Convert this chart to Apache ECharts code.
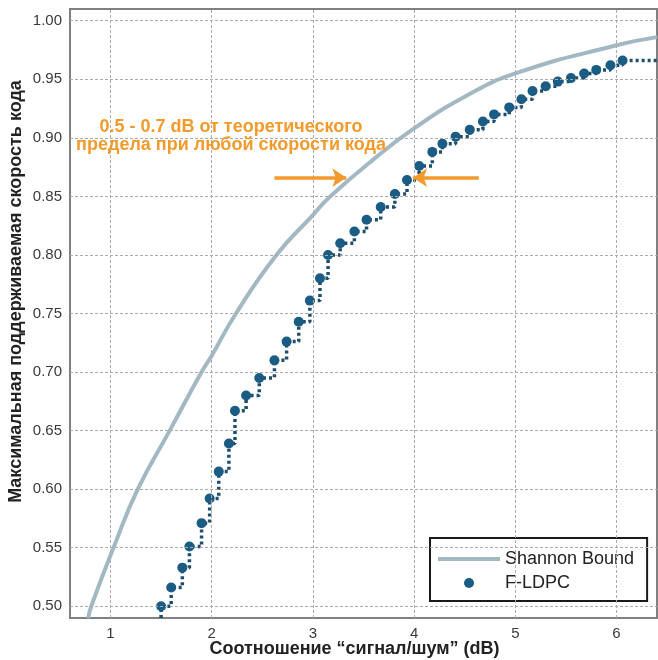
<!DOCTYPE html>
<html>
<head>
<meta charset="utf-8">
<title>F-LDPC vs Shannon Bound</title>
<script src="https://cdn.jsdelivr.net/npm/echarts@6/dist/echarts.min.js"></script>
<style>
    html, body { margin: 0; padding: 0; background: #fff; }
    #chart { width: 658px; height: 660px; }
</style>
</head>
<body>
<div id="chart"></div>
<script>
// оси
var xTicks = [1, 2, 3, 4, 5, 6];
var yTicks = [0.50, 0.55, 0.60, 0.65, 0.70, 0.75, 0.80, 0.85, 0.90, 0.95, 1.00];

// Shannon bound (читается с картинки)
var shannonX = [0.78, 0.81, 1.03, 1.27, 1.585, 1.90, 2.00, 2.24, 2.64, 3.00, 3.16, 3.59, 4.00, 4.50, 5.00, 6.00, 6.40];
var shannonY = [0.490, 0.500, 0.550, 0.600, 0.650, 0.700, 0.714, 0.750, 0.800, 0.834, 0.849, 0.881, 0.908, 0.935, 0.955, 0.979, 0.986];

// F-LDPC точки
var ldpcX = [1.50, 1.60, 1.71, 1.78, 1.90, 1.98, 2.07, 2.17, 2.23, 2.34,
    2.47, 2.62, 2.74, 2.86, 2.97, 3.07, 3.15, 3.27, 3.41, 3.53,
    3.67, 3.81, 3.93, 4.05, 4.18, 4.28, 4.41, 4.55, 4.68, 4.79,
    4.94, 5.06, 5.17, 5.30, 5.42, 5.55, 5.68, 5.80, 5.94, 6.06];
var ldpcY = [0.500, 0.516, 0.533, 0.551, 0.571, 0.592, 0.615, 0.639, 0.667, 0.680,
    0.695, 0.710, 0.726, 0.743, 0.761, 0.780, 0.800, 0.810, 0.820, 0.830,
    0.841, 0.852, 0.864, 0.876, 0.888, 0.895, 0.901, 0.907, 0.914, 0.920,
    0.926, 0.933, 0.940, 0.944, 0.948, 0.951, 0.955, 0.958, 0.962, 0.966];
// хвосты ступенчатой линии (к оси и к правому краю)
var stairStart = [1.50, 0.49];
var stairEnd = [6.40, 0.966];

// стрелки аннотации: [x от, x до], y
var arrowLeftX = [2.62, 3.33];
var arrowRightX = [4.64, 3.99];
var arrowY = 0.866;

var orange = '#f39a2c';
var shannonColor = '#a2b8c3';
var font = '"Liberation Sans", Arial, sans-serif';

var el = document.getElementById('chart');
var chart = echarts.init(el);

var shannonData = shannonX.map(function(x, i) { return [x, shannonY[i]]; });
var ldpcData = [{ value: stairStart, symbol: 'none' }];
ldpcX.forEach(function(x, i) { ldpcData.push([x, ldpcY[i]]); });
ldpcData.push({ value: stairEnd, symbol: 'none' });

var gridLines = xTicks.map(function(v) { return { xAxis: v }; })
    .concat(yTicks.map(function(v) { return { yAxis: v }; }));

var option = {
    animation: false,
    textStyle: { fontFamily: font },
    grid: {
        left: 70, right: 1, top: 9, bottom: 42,
        outerBoundsMode: 'none',
        show: true,
        borderColor: '#808080',
        borderWidth: 2,
        backgroundColor: '#fff'
    },
    xAxis: {
        type: 'value',
        min: 0.6,
        max: 6.4,
        name: 'Соотношение “сигнал/шум” (dB)',
        nameLocation: 'middle',
        nameGap: 22,
        nameMoveOverlap: false,
        nameTextStyle: { fontSize: 18, fontWeight: 'bold', color: '#222', padding: [0, 18, 0, 0] },
        axisLine: { show: false },
        axisTick: { show: false },
        splitLine: { show: false },
        axisLabel: {
            customValues: xTicks,
            fontSize: 15,
            color: '#3a3a3a',
            margin: 8
        }
    },
    yAxis: {
        type: 'value',
        min: 0.49,
        max: 1.01,
        name: 'Максимальная поддерживаемая скорость кода',
        nameLocation: 'middle',
        nameGap: 45,
        nameMoveOverlap: false,
        nameTextStyle: { fontSize: 18, fontWeight: 'bold', color: '#222', padding: [0, 0, 0, 44] },
        axisLine: { show: false },
        axisTick: { show: false },
        splitLine: { show: false },
        axisLabel: {
            customValues: yTicks,
            fontSize: 15,
            color: '#3a3a3a',
            margin: 8,
            formatter: function(v) { return v.toFixed(2); }
        }
    },
    legend: {
        data: [
            {
                name: 'Shannon Bound',
                icon: 'path://M0,0L0.01,0L0,10Z M0,3H62V7H0Z',
                itemStyle: { color: shannonColor }
            },
            { name: 'F-LDPC', icon: 'circle' }
        ],
        orient: 'vertical',
        left: 430,
        top: 538,
        padding: [12, 13, 9, 8],
        itemGap: 6,
        itemWidth: 62,
        itemHeight: 10,
        backgroundColor: '#fff',
        borderColor: '#1a1a1a',
        borderWidth: 2,
        textStyle: { fontSize: 18, color: '#222' }
    },
    graphic: [{
        type: 'text',
        x: 231,
        y: 118,
        style: {
            text: '0.5 - 0.7 dB от теоретического\nпредела при любой скорости кода',
            fill: orange,
            font: 'bold 18px ' + font,
            textAlign: 'center',
            lineHeight: 18
        },
        z: 20
    }],
    series: [{
        // сетка
        name: 'grid',
        type: 'line',
        data: [],
        silent: true,
        z: 1,
        markLine: {
            silent: true,
            symbol: 'none',
            label: { show: false },
            animation: false,
            lineStyle: { color: '#ababab', type: [3, 2], width: 1 },
            data: gridLines
        }
    }, {
        name: 'Shannon Bound',
        type: 'line',
        data: shannonData,
        smooth: 0.5,
        showSymbol: false,
        symbol: 'none',
        z: 3,
        lineStyle: { color: shannonColor, width: 4 },
        itemStyle: { color: shannonColor }
    }, {
        name: 'F-LDPC',
        type: 'line',
        step: 'end',
        data: ldpcData,
        symbol: 'circle',
        symbolSize: 10,
        z: 4,
        lineStyle: { color: '#1f4d6c', width: 3.5, type: [3, 3] },
        itemStyle: { color: '#1b5c84' }
    }, {
        // стрелки
        name: 'arrows',
        type: 'line',
        data: [],
        silent: true,
        z: 5,
        markLine: {
            silent: true,
            symbol: ['none', 'arrow'],
            symbolSize: [14, 14],
            label: { show: false },
            lineStyle: { color: orange, width: 3.5, type: 'solid' },
            data: [
                [{ coord: [arrowLeftX[0], arrowY] }, { coord: [arrowLeftX[1], arrowY] }],
                [{ coord: [arrowRightX[0], arrowY] }, { coord: [arrowRightX[1], arrowY] }]
            ]
        }
    }]
};
chart.setOption(option);
</script>
</body>
</html>
